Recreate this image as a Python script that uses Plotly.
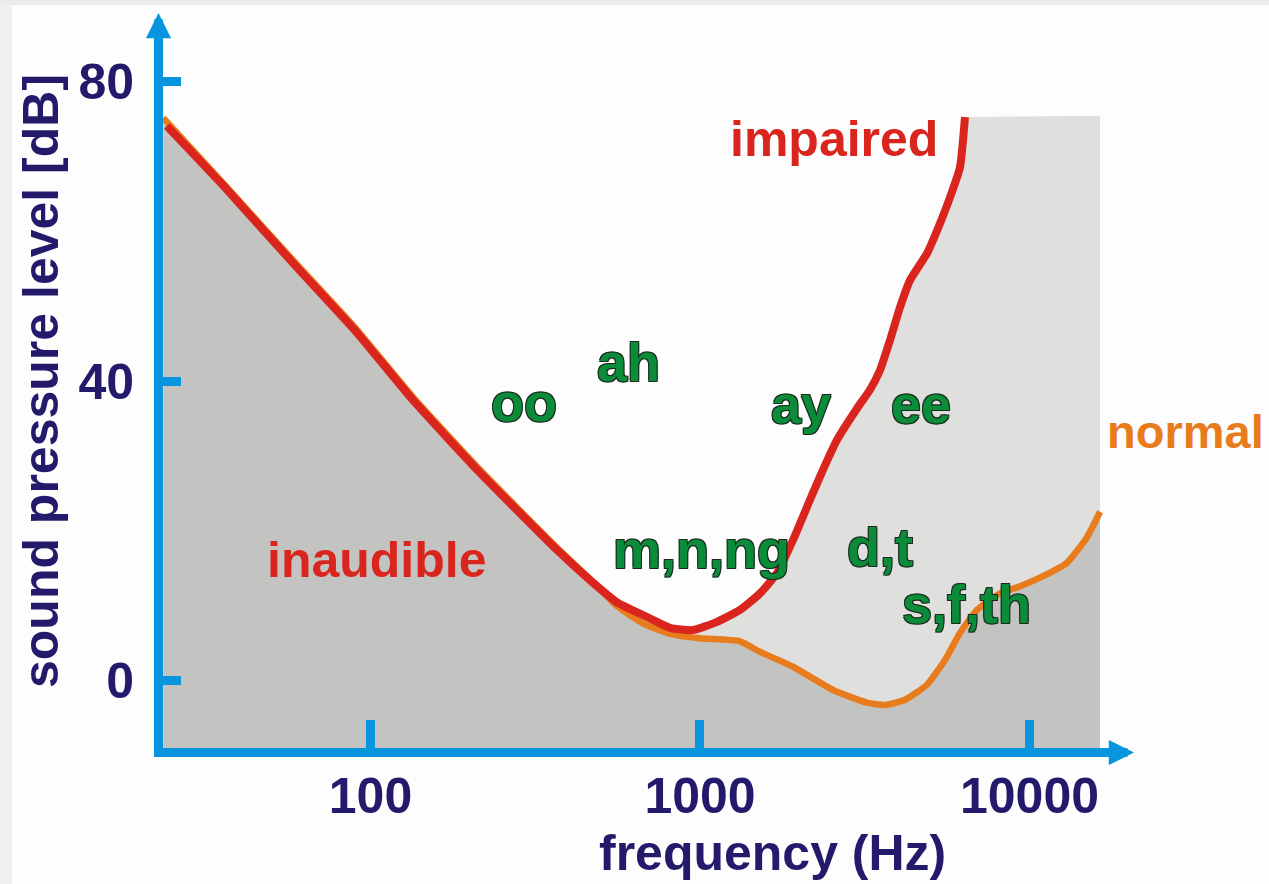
import math
import plotly.graph_objects as go

# hearing threshold curves (frequency in Hz, level in dB SPL)
freq_impaired = [24.1, 36.7, 58.2, 91, 134.6, 215, 368, 474, 560, 671, 811, 952, 1126, 1323,
                 1521, 1713, 1915, 2157, 2362, 2605, 2996, 3281, 3518, 3772, 4046, 4338,
                 4886, 5350, 5739, 6152, 6371]
db_impaired = [74.1, 65.6, 55.8, 46.5, 37.5, 27.8, 17.5, 13.1, 10.5, 8.8, 7.1, 6.8, 7.9, 9.5,
               11.7, 14.4, 18.8, 24.2, 28.2, 32.2, 36.4, 38.9, 41.5, 45.5, 49.9, 53.5,
               57.1, 61.1, 64.6, 68.6, 75.3]

freq_normal = [23.5, 36.7, 58.2, 91, 134.6, 215, 368, 474, 560, 671, 811, 1000, 1323, 1521,
               1915, 2533, 3212, 3643, 4190, 4886, 5541, 6152, 6929, 8138, 9165, 10762,
               12996, 14945, 16368]
db_normal = [75.2, 65.9, 56.2, 46.9, 37.9, 28.2, 17.8, 13.2, 10.0, 7.7, 6.3, 5.7, 5.3, 3.9,
             1.9, -1.2, -2.9, -3.2, -2.5, -0.5, 2.8, 6.4, 9.5, 11.7, 12.5, 13.8,
             15.8, 19.2, 22.6]

region_top_db = 75.5  # top of the "lost hearing" band

# speech sound labels
speech_labels = ["oo", "ah", "ay", "ee", "m,n,ng", "d,t", "s,f,th"]
speech_freq = [292, 605, 2025, 4686, 1011, 3518, 6461]
speech_db = [37.2, 42.6, 37.0, 37.0, 17.6, 17.9, 10.3]

# curve / region labels
curve_labels = ["impaired", "inaudible", "normal"]
curve_label_freq = [2551, 104.3, 16950]
curve_label_db = [72.4, 16.1, 33.3]

x_ticks = [100, 1000, 10000]
y_ticks = [0, 40, 80]
x_range = [1.3703, 4.2504]   # log10(Hz)
y_range = [-8.95, 86.0]

BLUE = "#0795dd"
NAVY = "#231a6b"
RED = "#d9251d"
ORANGE = "#e87b1b"
GREEN = "#0b8c3b"
FONT = "Liberation Sans"

W, H = 1269, 884
ML, MR, MT, MB = 163, 157, 37, 136
PW, PH = W - ML - MR, H - MT - MB


def px_x(px):
    return (px - ML) / PW


def px_y(py):
    return (H - MB - py) / PH


fig = go.Figure()

# inaudible region under the normal threshold
fig.add_trace(go.Scatter(
    x=freq_normal + [freq_normal[-1], freq_normal[0]],
    y=db_normal + [y_range[0], y_range[0]],
    fill="toself", fillcolor="#c3c3c2", mode="none", hoverinfo="skip"))

# region lost to the impairment: between impaired and normal curves
i0 = freq_impaired.index(952)
j0 = freq_normal.index(1000)
fig.add_trace(go.Scatter(
    x=freq_impaired[i0:] + [freq_normal[-1], freq_normal[-1]] + freq_normal[j0:][::-1],
    y=db_impaired[i0:] + [region_top_db, db_normal[-1]] + db_normal[j0:][::-1],
    fill="toself", fillcolor="#dfdfde", mode="none", hoverinfo="skip"))

fig.add_trace(go.Scatter(x=freq_normal, y=db_normal, mode="lines",
                         line=dict(color=ORANGE, width=6.5, shape="spline", smoothing=0.5)))
fig.add_trace(go.Scatter(x=freq_impaired, y=db_impaired, mode="lines",
                         line=dict(color=RED, width=8, shape="spline", smoothing=0.5)))

outline = "1px 1px 0 #1b2a1b, -1px -1px 0 #1b2a1b, 1px -1px 0 #1b2a1b, -1px 1px 0 #1b2a1b"
for lab, f, d in zip(speech_labels, speech_freq, speech_db):
    fig.add_annotation(x=math.log10(f), y=d, text=lab, showarrow=False,
                       xanchor="center", yanchor="middle",
                       font=dict(family=FONT, size=54, color=GREEN, weight="bold",
                                 shadow=outline))

label_colors = [RED, RED, ORANGE]
label_anchor = ["center", "center", "left"]
label_sizes = [50, 50, 47]
for lab, f, d, c, a, s in zip(curve_labels, curve_label_freq, curve_label_db,
                              label_colors, label_anchor, label_sizes):
    fig.add_annotation(x=math.log10(f), y=d, text=lab, showarrow=False,
                       xanchor=a, yanchor="middle",
                       font=dict(family=FONT, size=s, color=c, weight="bold"))

# axis titles
fig.add_annotation(xref="paper", yref="paper", x=px_x(772), y=px_y(853),
                   xanchor="center", yanchor="middle",
                   text="frequency (Hz)", showarrow=False,
                   font=dict(family=FONT, size=50, color=NAVY, weight="bold"))
fig.add_annotation(xref="paper", yref="paper", x=px_x(41), y=px_y(381),
                   xanchor="center", yanchor="middle",
                   text="sound pressure level [dB]", showarrow=False, textangle=-90,
                   font=dict(family=FONT, size=50, color=NAVY, weight="bold"))

# arrow tips on the axes
fig.add_annotation(xref="paper", yref="paper", x=px_x(158.5), y=px_y(13), ax=0, ay=40,
                   text="", showarrow=True, arrowhead=2, arrowwidth=9, arrowsize=0.56,
                   arrowcolor=BLUE)
fig.add_annotation(xref="paper", yref="paper", x=px_x(1134), y=px_y(752.5), ax=-40, ay=0,
                   text="", showarrow=True, arrowhead=2, arrowwidth=9, arrowsize=0.56,
                   arrowcolor=BLUE)

# light grey page border
fig.add_shape(type="rect", xref="paper", yref="paper", x0=px_x(0), x1=px_x(12),
              y0=px_y(H), y1=px_y(0), fillcolor="#f0f0f0", line_width=0, layer="below")
fig.add_shape(type="rect", xref="paper", yref="paper", x0=px_x(0), x1=px_x(W),
              y0=px_y(5), y1=px_y(0), fillcolor="#ececec", line_width=0, layer="below")

fig.update_layout(
    width=W, height=H, showlegend=False,
    margin=dict(l=ML, r=MR, t=MT, b=MB),
    paper_bgcolor="#fdfdfd", plot_bgcolor="rgba(0,0,0,0)",
    font=dict(family=FONT, color=NAVY),
)
fig.update_xaxes(type="log", range=x_range, tickvals=x_ticks,
                 ticktext=[str(v) for v in x_ticks],
                 showgrid=False, zeroline=False, showline=True, linewidth=9, linecolor=BLUE,
                 ticks="inside", ticklen=28, tickwidth=9, tickcolor=BLUE,
                 ticklabelstandoff=-4,
                 tickfont=dict(family=FONT, size=50, color=NAVY, weight="bold"))
fig.update_yaxes(range=y_range, tickvals=y_ticks, showgrid=False, zeroline=False,
                 showline=True, linewidth=9, linecolor=BLUE,
                 ticks="inside", ticklen=18, tickwidth=9, tickcolor=BLUE,
                 ticklabelstandoff=10,
                 tickfont=dict(family=FONT, size=50, color=NAVY, weight="bold"))

fig.write_html("out.html", config={"displayModeBar": False},
               post_script="document.body.style.margin='0';")
